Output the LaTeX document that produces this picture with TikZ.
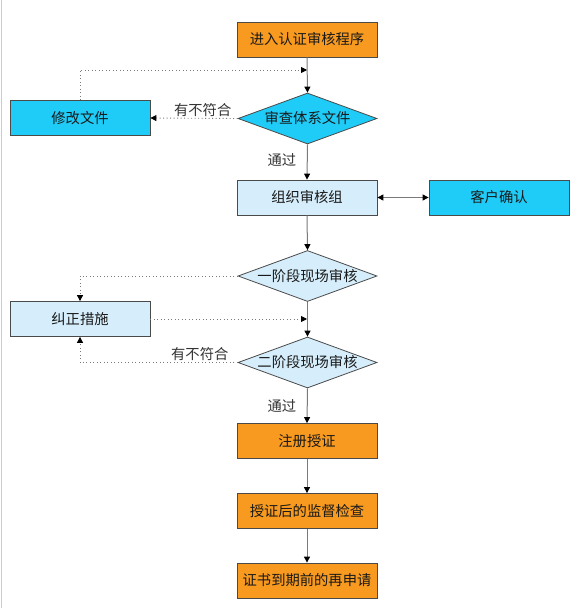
\documentclass[tikz,border=0pt]{standalone}
\usepackage{fontspec}
\newfontfamily\cjk{Noto Sans CJK SC}
\usetikzlibrary{shapes.geometric,arrows.meta}
\definecolor{orangefill}{HTML}{F89A1F}
\definecolor{cyanfill}{HTML}{1FCBF7}
\definecolor{lightfill}{HTML}{D6EEFB}
\definecolor{edgegray}{HTML}{4A4A4A}
\definecolor{linegray}{HTML}{7A7A7A}
\definecolor{bordercol}{HTML}{A9DCD5}
\tikzset{
  basebox/.style={draw=edgegray, line width=0.8pt, minimum width=140pt, minimum height=35pt, inner sep=0pt,
    font=\cjk\fontsize{14.3}{16}\selectfont, text=black!90},
  obox/.style={basebox, fill=orangefill},
  cbox/.style={basebox, fill=cyanfill},
  lbox/.style={basebox, fill=lightfill},
  dia/.style={basebox, shape=diamond, minimum width=139pt, minimum height=51pt, aspect=2.73},
  arr/.style={draw=linegray, line width=1pt, -{Triangle[length=6pt,width=6pt,color=black]}},
  darr/.style={draw=linegray, line width=1pt, {Triangle[length=6pt,width=6pt,color=black]}-{Triangle[length=6pt,width=6pt,color=black]}},
  dotarr/.style={draw=linegray, line width=0.9pt, dash pattern=on 0.9pt off 2.6pt, -{Triangle[length=6pt,width=6pt,color=black]}},
  lab/.style={font=\cjk\fontsize{14.3}{16}\selectfont, text=black!80, inner sep=1.5pt}
}
\begin{document}
\begin{tikzpicture}[x=1pt,y=1pt]
\useasboundingbox (0,0) rectangle (585,-608);
\fill[white] (0,0) rectangle (585,-608);
\draw[bordercol, line width=1.4pt] (1.5,0) -- (1.5,-608);

\node[obox] (n1) at (307,-39.5) {进入认证审核程序};
\node[dia, fill=cyanfill] (d1) at (307.5,-118.5) {审查体系文件};
\node[cbox] (mod) at (80,-118) {修改文件};
\node[lbox] (org) at (307,-197.5) {组织审核组};
\node[cbox] (cust) at (499,-197.5) {客户确认};
\node[dia, fill=lightfill] (d2) at (307.5,-276) {一阶段现场审核};
\node[lbox] (fix) at (80,-319) {纠正措施};
\node[dia, fill=lightfill] (d3) at (307.5,-362.5) {二阶段现场审核};
\node[obox] (reg) at (307,-441) {注册授证};
\node[obox] (sup) at (307,-511) {授证后的监督检查};
\node[obox] (ren) at (307,-580.5) {证书到期前的再申请};

\coordinate (j1) at (307,-70);
\coordinate (j2) at (307,-319);

\draw[arr] (n1.south) -- (d1.north);
\draw[dotarr] (mod.north) |- (j1);
\draw[dotarr] (d1.west) -- node[lab, above, pos=0.4] {有不符合} (mod.east);
\draw[arr] (d1.south) -- node[lab, left=9pt, pos=0.45] {通过} (org.north);
\draw[darr] (org.east) -- (cust.west);
\draw[arr] (org.south) -- (d2.north);
\draw[dotarr] (d2.west) -| (fix.north);
\draw[dotarr] (fix.east) -- (j2);
\draw[arr] (d2.south) -- (d3.north);
\draw[dotarr] (d3.west) -| node[lab, above, pos=0.12] {有不符合} (fix.south);
\draw[arr] (d3.south) -- node[lab, left=9pt, pos=0.5] {通过} (reg.north);
\draw[arr] (reg.south) -- (sup.north);
\draw[arr] (sup.south) -- (ren.north);
\end{tikzpicture}
\end{document}
